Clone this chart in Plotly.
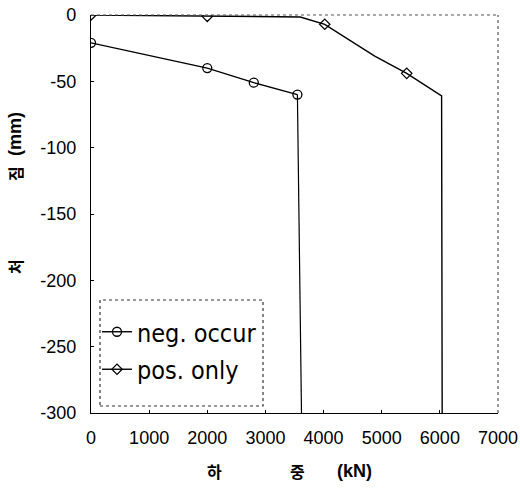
import plotly.graph_objects as go

# load (kN) vs. settlement (mm)
neg_load = [0, 2000, 2800, 3550]
neg_settle = [-21, -40, -51, -60]
neg_drop_load = [3550, 3620]
neg_drop_settle = [-60, -300]

pos_load = [0, 2000, 4020, 5430]
pos_settle = [0, -1, -7, -44]
pos_path_load = [0, 2000, 3600, 4020, 4880, 5430, 6030, 6040]
pos_path_settle = [0, -1, -1.5, -7, -31, -44, -61, -300]

x_ticks = [0, 1000, 2000, 3000, 4000, 5000, 6000, 7000]
y_ticks = [0, -50, -100, -150, -200, -250, -300]

L, R, T, B = 91, 22, 15, 75
W, H = 520, 488
PW, PH = W - L - R, H - T - B


def px_x(p):
    return (p - L) / PW


def px_y(p):
    return (H - B - p) / PH


fig = go.Figure()

line = dict(color="black", width=1.4)
circ = dict(symbol="circle-open", size=9, color="black", line=dict(width=1.3))
diam = dict(symbol="diamond-open", size=8, color="black", line=dict(width=1.2))

# neg. occur: curve with circles, then vertical plunge
fig.add_trace(go.Scatter(
    x=neg_load, y=neg_settle, mode="lines+markers", name="neg. occur",
    line=line, legendgroup="a", marker=circ,
))
fig.add_trace(go.Scatter(
    x=neg_drop_load, y=neg_drop_settle, mode="lines", showlegend=False,
    line=dict(color="black", width=1.2),
))

# pos. only: path plus diamond markers
fig.add_trace(go.Scatter(
    x=pos_path_load, y=pos_path_settle, mode="lines", showlegend=False, line=line,
))
fig.add_trace(go.Scatter(
    x=pos_load, y=pos_settle, mode="markers", showlegend=False, marker=diam,
))
# legend swatch for pos. only
fig.add_trace(go.Scatter(
    x=[None], y=[None], mode="lines+markers", name="pos. only",
    line=line, legendgroup="b", marker=diam,
))

tick_font = dict(family="Liberation Sans, Arial", size=18, color="black")

fig.update_xaxes(
    range=[0, 7000], tickvals=x_ticks, ticktext=[str(v) for v in x_ticks],
    showgrid=False, zeroline=False, showline=True, linecolor="black", linewidth=1.4,
    ticks="inside", ticklen=3, tickcolor="black", tickfont=tick_font,
    automargin=False, ticklabelstandoff=8,
)
fig.update_yaxes(
    range=[-300, 0], tickvals=y_ticks, ticktext=[str(v) for v in y_ticks],
    showgrid=False, zeroline=False, showline=True, linecolor="black", linewidth=1.4,
    ticks="inside", ticklen=3, tickcolor="black", tickfont=tick_font,
    automargin=False, ticklabelstandoff=10,
)

# dotted top and right frame
fig.add_shape(type="line", xref="paper", yref="paper", x0=0, x1=1, y0=1, y1=1,
              line=dict(color="#555", width=1.2, dash="dot"))
fig.add_shape(type="line", xref="paper", yref="paper", x0=1, x1=1, y0=0, y1=1,
              line=dict(color="#555", width=1.2, dash="dot"))

# legend frame
fig.add_shape(type="rect", xref="paper", yref="paper",
              x0=px_x(100), x1=px_x(263), y0=px_y(406), y1=px_y(300),
              line=dict(color="#333", width=1.2, dash="dot"))

kfont = dict(family="Noto Sans CJK KR", size=16, color="black")
lfont = dict(family="Liberation Sans, Arial", size=18, color="black")
xtitle_y = px_y(471)
for txt, cx, f in [("하", 214, kfont), ("중", 297, kfont), ("(kN)", 354, lfont)]:
    fig.add_annotation(text=f"<b>{txt}</b>", xref="paper", yref="paper",
                       x=px_x(cx), y=xtitle_y, xanchor="center", yanchor="middle",
                       showarrow=False, font=f)
ytitle_x = px_x(15)
for txt, cy, f in [("처", 267, kfont), ("짐", 174, kfont), ("(mm)", 134, lfont)]:
    fig.add_annotation(text=f"<b>{txt}</b>", xref="paper", yref="paper",
                       x=ytitle_x, y=px_y(cy), xanchor="center", yanchor="middle",
                       textangle=-90, showarrow=False, font=f)

fig.update_layout(
    width=W, height=H,
    margin=dict(l=L, r=R, t=T, b=B, autoexpand=False),
    plot_bgcolor="white", paper_bgcolor="white",
    showlegend=True,
    legend=dict(
        x=px_x(97), y=px_y(309), xanchor="left", yanchor="top",
        bgcolor="rgba(0,0,0,0)", borderwidth=0,
        font=dict(family="DejaVu Sans Condensed, Liberation Sans", size=25, color="black"),
        traceorder="grouped", tracegroupgap=2, itemwidth=30,
    ),
)

fig.write_html("out.html")
